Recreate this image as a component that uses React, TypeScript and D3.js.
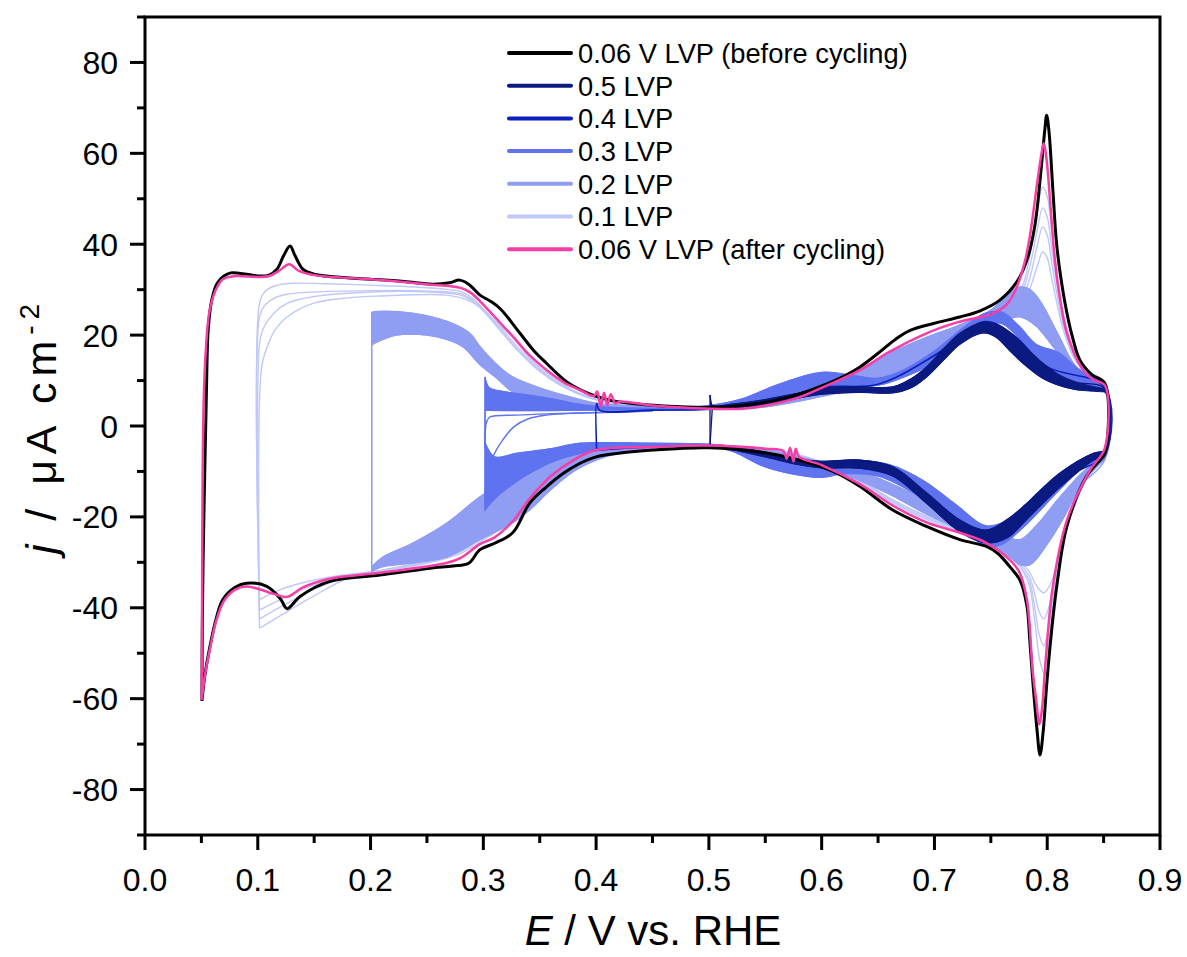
import React from "react";
import * as d3 from "d3";

type Pt = [number, number];

// axis setup
const xTickVals = [0, 0.1, 0.2, 0.3, 0.4, 0.5, 0.6, 0.7, 0.8, 0.9];
const xMinorVals = [0.05, 0.15, 0.25, 0.35, 0.45, 0.55, 0.65, 0.75, 0.85];
const yTickVals = [-80, -60, -40, -20, 0, 20, 40, 60, 80];
const yMinorVals = [-90, -70, -50, -30, -10, 10, 30, 50, 70, 90];

const legendLabels = [
  "0.06 V LVP (before cycling)",
  "0.5 LVP",
  "0.4 LVP",
  "0.3 LVP",
  "0.2 LVP",
  "0.1 LVP",
  "0.06 V LVP (after cycling)",
];
const legendColors = ["#000000", "#0a1a80", "#0b1fbb", "#5f73f0", "#8f9df3", "#bfc8f8", "#f53fa6"];

// 0.06 V before cycling
const blackAnodic: Pt[] = [
  [0.0505, -60.5], [0.0508, -45], [0.0515, -30], [0.053, -10], [0.0545, 8], [0.056, 21], [0.059, 27.5],
  [0.064, 31.4], [0.07, 33], [0.076, 33.7], [0.09, 33.4], [0.1, 33], [0.11, 33.2], [0.117, 34.5],
  [0.123, 37.5], [0.1286, 39.6], [0.133, 37.5], [0.14, 34.5], [0.15, 33.4], [0.179, 32.6], [0.2, 32.3],
  [0.23, 31.8], [0.255, 31.2], [0.27, 31.5], [0.279, 32.1], [0.287, 31.2], [0.297, 28.8], [0.306, 27.5],
  [0.315, 25.8], [0.3325, 20.4], [0.345, 16.5], [0.356, 13.8], [0.374, 9.7], [0.392, 7.3], [0.41, 5.8],
  [0.43, 5], [0.46, 4.4], [0.5, 4.1], [0.53, 4.5], [0.56, 5.7], [0.58, 7], [0.6, 8.8], [0.62, 11],
  [0.634, 13], [0.65, 16], [0.665, 19], [0.678, 21], [0.7, 22.6], [0.7225, 24], [0.74, 25.3],
  [0.758, 27.7], [0.773, 31.7], [0.782, 36.5], [0.789, 44], [0.794, 55], [0.798, 65.5], [0.7995, 68.4],
  [0.8015, 65], [0.805, 52], [0.808, 41], [0.811, 34.5], [0.8175, 24.8], [0.823, 19], [0.829, 14.5],
  [0.84, 11.2], [0.851, 9.4],
];
const blackCathodic: Pt[] = [
  [0.851, -6], [0.845, -8], [0.835, -11], [0.8175, -22], [0.8086, -35], [0.8035, -46], [0.7995, -57],
  [0.7965, -67], [0.7936, -72.4], [0.791, -67], [0.7875, -57], [0.7845, -47], [0.782, -39.6], [0.776, -34],
  [0.767, -31], [0.756, -28], [0.746, -26.5], [0.7226, -25], [0.693, -22.1], [0.663, -18.5], [0.634, -13.3],
  [0.61, -10], [0.58, -7.5], [0.55, -5.9], [0.5, -4.8], [0.45, -5.3], [0.42, -6], [0.4, -6.8],
  [0.385, -8.3], [0.371, -10.4], [0.355, -13.6], [0.341, -17], [0.326, -23.5], [0.31, -25.8],
  [0.297, -27.2], [0.287, -30.2], [0.273, -30.8], [0.253, -31.3], [0.2084, -32.8], [0.164, -34.2],
  [0.1375, -37.5], [0.126, -40.2], [0.12, -38], [0.108, -35.3], [0.09, -34.6], [0.08, -35.5],
  [0.069, -38.2], [0.063, -42.5], [0.0576, -48.5], [0.053, -55], [0.0505, -60.5],
];

// 0.06 V after cycling
const pinkAnodic: Pt[] = [
  [0.0503, -60.3], [0.0506, -40], [0.051, -15], [0.052, 5], [0.054, 17], [0.057, 25], [0.062, 29.5],
  [0.069, 32.3], [0.08, 33], [0.1, 32.8], [0.11, 33], [0.118, 34], [0.128, 35.6], [0.136, 34.2],
  [0.15, 33.2], [0.2, 32.3], [0.25, 31.2], [0.28, 30.4], [0.289, 29.3], [0.297, 27.5], [0.312, 23.5],
  [0.3265, 19.6], [0.34, 15.8], [0.356, 12.3], [0.372, 9.5], [0.386, 7.9], [0.398, 6.6], [0.401, 7.6],
  [0.404, 4.2], [0.407, 7.3], [0.41, 4.6], [0.413, 7], [0.417, 5], [0.421, 5.4], [0.45, 4.5],
  [0.474, 4.1], [0.5, 3.8], [0.53, 3.8], [0.55, 4.5], [0.58, 6.3], [0.6, 8.4], [0.634, 12.3],
  [0.66, 16.3], [0.693, 20.4], [0.72, 22.8], [0.752, 24.8], [0.765, 27], [0.773, 30.6], [0.78, 36],
  [0.785, 42.4], [0.791, 53.3], [0.795, 60], [0.797, 62.2], [0.7995, 58.5], [0.803, 48], [0.807, 36],
  [0.812, 27], [0.8175, 20.4], [0.83, 13], [0.841, 10.1], [0.851, 9],
];
const pinkCathodic: Pt[] = [
  [0.851, -4.9], [0.838, -9.7], [0.8175, -20.7], [0.805, -35.3], [0.798, -53.6], [0.7955, -62],
  [0.793, -65.7], [0.7905, -61], [0.787, -53.6], [0.782, -38.2], [0.775, -32], [0.767, -29.5],
  [0.746, -25.7], [0.7226, -23.5], [0.693, -21.2], [0.663, -17.5], [0.634, -12.8], [0.6, -8.6],
  [0.58, -6.8], [0.577, -5], [0.575, -7.8], [0.572, -4.8], [0.569, -7.2], [0.566, -5.5], [0.55, -5],
  [0.5, -4.3], [0.45, -4.6], [0.4, -5.3], [0.38, -7.5], [0.36, -11], [0.341, -16], [0.326, -21],
  [0.31, -24.5], [0.297, -26], [0.28, -29], [0.268, -30.1], [0.2084, -32.3], [0.164, -33.6],
  [0.14, -35.5], [0.126, -37.6], [0.115, -37], [0.1, -35.8], [0.09, -35.3], [0.08, -36], [0.07, -38.5],
  [0.063, -43], [0.0576, -49], [0.053, -55], [0.0503, -60.3],
];

// 0.1 LVP, four visible cycles
const lvp01A: Pt[] = [
  [0.1015, -38.2], [0.1015, 27], [0.106, 29.5], [0.115, 30.8], [0.13, 31.4], [0.16, 31.3], [0.2, 31],
  [0.24, 30.6], [0.27, 30], [0.28, 29.6], [0.29, 28.2], [0.3, 25.8], [0.315, 21.8], [0.33, 17.5],
  [0.35, 12.5], [0.37, 9], [0.39, 6.8], [0.42, 5], [0.46, 4.2], [0.5, 3.9], [0.55, 4.7], [0.6, 8.2],
  [0.634, 11.8], [0.66, 15.5], [0.693, 19.5], [0.72, 21.8], [0.745, 23.5], [0.765, 26], [0.777, 30],
  [0.785, 38], [0.791, 47], [0.796, 52.6], [0.8, 50.5], [0.804, 43], [0.809, 33], [0.815, 24],
  [0.825, 16], [0.838, 11.5], [0.851, 9.2],
  [0.851, -5.2], [0.838, -9.5], [0.822, -18], [0.812, -28], [0.805, -40], [0.8, -50], [0.797, -54.3],
  [0.793, -51], [0.789, -43], [0.784, -35], [0.776, -31], [0.765, -28.5], [0.746, -25.3], [0.72, -23],
  [0.693, -20.6], [0.663, -17], [0.634, -12.5], [0.6, -8.3], [0.55, -5.1], [0.5, -4.4], [0.45, -4.7],
  [0.4, -5.5], [0.38, -7.8], [0.36, -11], [0.341, -15.5], [0.326, -20], [0.31, -23.5], [0.297, -25.5],
  [0.28, -28], [0.25, -30.2], [0.21, -31.8], [0.17, -33], [0.14, -34.5], [0.12, -36], [0.1015, -38.2],
];
const lvp01B: Pt[] = [
  [0.1015, -40.5], [0.1015, 24], [0.106, 26.5], [0.115, 28.2], [0.126, 29], [0.15, 29.5], [0.2, 29.8],
  [0.24, 29.8], [0.27, 29.5], [0.28, 29.1], [0.29, 27.8], [0.3, 25.5], [0.315, 21.3], [0.33, 17],
  [0.35, 12.2], [0.37, 8.8], [0.39, 6.6], [0.42, 4.9], [0.46, 4.1], [0.5, 3.8], [0.55, 4.6], [0.6, 8],
  [0.634, 11.4], [0.66, 15], [0.693, 19], [0.72, 21.3], [0.745, 23], [0.765, 25.3], [0.777, 29],
  [0.785, 35.5], [0.791, 43], [0.796, 48], [0.8, 46], [0.804, 39], [0.809, 30.5], [0.815, 22.5],
  [0.825, 15.2], [0.838, 11.2], [0.851, 9],
  [0.851, -5.5], [0.838, -9.8], [0.822, -18.5], [0.812, -28], [0.805, -38], [0.8, -46], [0.797, -48.4],
  [0.793, -46], [0.789, -40], [0.784, -34], [0.776, -31], [0.765, -28.2], [0.746, -25], [0.72, -22.7],
  [0.693, -20.3], [0.663, -16.7], [0.634, -12.2], [0.6, -8.1], [0.55, -5], [0.5, -4.4], [0.45, -4.6],
  [0.4, -5.4], [0.38, -7.6], [0.36, -10.7], [0.341, -15], [0.326, -19.5], [0.31, -23], [0.297, -25],
  [0.28, -27.6], [0.25, -30], [0.21, -31.8], [0.17, -33.5], [0.15, -35], [0.13, -37], [0.115, -38.8],
  [0.1015, -40.5],
];
const lvp01C: Pt[] = [
  [0.1015, -42.5], [0.1015, 18], [0.105, 21.5], [0.115, 25], [0.126, 27], [0.15, 28.5], [0.2, 29.5],
  [0.24, 29.6], [0.27, 29.2], [0.28, 28.8], [0.29, 27.5], [0.3, 25.3], [0.315, 21], [0.33, 16.7],
  [0.35, 12], [0.37, 8.7], [0.39, 6.5], [0.42, 4.8], [0.46, 4.1], [0.5, 3.8], [0.55, 4.5], [0.6, 7.8],
  [0.634, 11], [0.66, 14.5], [0.693, 18.5], [0.72, 20.8], [0.745, 22.5], [0.765, 24.5], [0.777, 27.5],
  [0.785, 33], [0.791, 39.5], [0.796, 43.8], [0.8, 42], [0.804, 36], [0.809, 28.5], [0.815, 21.5],
  [0.825, 14.8], [0.838, 11], [0.851, 8.9],
  [0.851, -5.6], [0.838, -10], [0.822, -18.8], [0.812, -27.5], [0.805, -36], [0.8, -41], [0.797, -42.5],
  [0.793, -41], [0.789, -37], [0.784, -33], [0.776, -30.5], [0.765, -28], [0.746, -24.8], [0.72, -22.5],
  [0.693, -20], [0.663, -16.4], [0.634, -12], [0.6, -8], [0.55, -5], [0.5, -4.4], [0.45, -4.6],
  [0.4, -5.3], [0.38, -7.4], [0.36, -10.4], [0.341, -14.6], [0.326, -19], [0.31, -22.5], [0.297, -24.6],
  [0.28, -27.2], [0.25, -29.8], [0.21, -31.8], [0.17, -34], [0.149, -36], [0.13, -38.5], [0.115, -40.5],
  [0.1015, -42.5],
];
const lvp01D: Pt[] = [
  [0.1015, -44.5], [0.1015, 5], [0.104, 13.8], [0.11, 18.5], [0.115, 21], [0.126, 24], [0.149, 27],
  [0.18, 28.2], [0.208, 28.6], [0.268, 28.8], [0.285, 27.8], [0.297, 26.2], [0.31, 23.2], [0.326, 19.5],
  [0.345, 14], [0.36, 11], [0.38, 7.8], [0.4, 6], [0.43, 4.7], [0.46, 4.1], [0.5, 3.8], [0.55, 4.4],
  [0.6, 7.6], [0.634, 10.6], [0.66, 14], [0.693, 18], [0.72, 20.3], [0.745, 22], [0.765, 23.8],
  [0.777, 26.5], [0.785, 30.5], [0.791, 35], [0.796, 38.3], [0.8, 37], [0.804, 32.5], [0.809, 26.5],
  [0.815, 20.5], [0.825, 14.4], [0.838, 10.8], [0.851, 8.8],
  [0.851, -5.8], [0.838, -10.2], [0.822, -19], [0.812, -27], [0.805, -33.5], [0.8, -36], [0.797, -36.7],
  [0.793, -36], [0.789, -34.5], [0.784, -32], [0.776, -30], [0.765, -27.8], [0.746, -24.6], [0.72, -22.3],
  [0.693, -19.8], [0.663, -16.2], [0.634, -11.8], [0.6, -7.9], [0.55, -4.9], [0.5, -4.4], [0.45, -4.6],
  [0.4, -5.2], [0.38, -7.2], [0.36, -10.2], [0.341, -14.2], [0.326, -18.5], [0.31, -22], [0.297, -24.2],
  [0.28, -27], [0.25, -29.6], [0.21, -31.8], [0.18, -33.5], [0.149, -37.5], [0.129, -40.4], [0.115, -42.5],
  [0.1015, -44.5],
];

// 0.2 LVP band edges (anodic = up, cathodic = low)
const lvp02UpOuter: Pt[] = [
  [0.201, 25], [0.206, 25.2], [0.238, 24.8], [0.268, 23], [0.288, 20.4], [0.297, 17.5], [0.31, 14],
  [0.326, 10.8], [0.356, 7.9], [0.377, 6.4], [0.4, 5], [0.45, 4.3], [0.5, 4], [0.55, 5.2], [0.6, 9],
  [0.634, 12.5], [0.66, 16], [0.693, 19.5], [0.72, 22], [0.75, 25.5], [0.765, 29], [0.776, 30.6],
  [0.785, 30], [0.795, 27], [0.81, 20], [0.826, 13], [0.851, 9.5],
];
const lvp02UpInner: Pt[] = [
  [0.201, 17.8], [0.206, 18.5], [0.223, 20], [0.25, 20], [0.268, 19], [0.282, 17.4], [0.297, 13.5],
  [0.312, 10.5], [0.326, 7.5], [0.356, 5], [0.4, 4], [0.5, 3.6], [0.55, 4.2], [0.6, 6.5], [0.634, 8.5],
  [0.66, 11], [0.693, 15], [0.72, 18.5], [0.745, 21.5], [0.765, 23.5], [0.776, 24], [0.79, 22],
  [0.81, 16], [0.83, 11], [0.851, 8.5],
];
const lvp02LowOuter: Pt[] = [
  [0.201, -32], [0.21, -31], [0.238, -30.1], [0.268, -28.8], [0.297, -25], [0.326, -21.3], [0.341, -18.5],
  [0.36, -14], [0.38, -10], [0.4, -7.5], [0.42, -6], [0.45, -5], [0.5, -4.8], [0.55, -6], [0.6, -9],
  [0.634, -12], [0.66, -15], [0.69, -19], [0.72, -22.5], [0.746, -25.5], [0.765, -28.5], [0.776, -30.5],
  [0.785, -30.5], [0.8, -26], [0.815, -20], [0.83, -13], [0.851, -7.5],
];
const lvp02LowInner: Pt[] = [
  [0.201, -31], [0.21, -29], [0.238, -25.7], [0.268, -21.3], [0.297, -15.6], [0.326, -11.2], [0.341, -9],
  [0.36, -7], [0.38, -5.5], [0.4, -4.8], [0.45, -4.3], [0.5, -4.3], [0.55, -5.2], [0.6, -8], [0.634, -10],
  [0.66, -12.5], [0.69, -16], [0.72, -20], [0.746, -23], [0.765, -24.5], [0.776, -25], [0.79, -22],
  [0.81, -16], [0.83, -10.5], [0.851, -6],
];

// 0.3 LVP band edges
const lvp03UpOuter: Pt[] = [
  [0.3015, 10.8], [0.305, 8.5], [0.32, 7.5], [0.34, 6.8], [0.36, 6], [0.38, 5], [0.4, 4.3], [0.45, 3.9],
  [0.5, 4.5], [0.53, 6], [0.56, 9], [0.6, 11.8], [0.63, 11], [0.65, 10.5], [0.67, 12], [0.7, 16.5],
  [0.725, 21.5], [0.745, 24.8], [0.76, 25], [0.775, 22], [0.79, 18], [0.811, 16], [0.83, 12], [0.851, 9.5],
];
const lvp03UpInner: Pt[] = [
  [0.3015, 3.5], [0.32, 3.4], [0.36, 3.4], [0.4, 3.5], [0.45, 3.5], [0.5, 3.7], [0.53, 4.5], [0.56, 6.5],
  [0.6, 8.5], [0.63, 8.8], [0.65, 9], [0.67, 10.5], [0.7, 14], [0.725, 19], [0.745, 22.5], [0.76, 22.5],
  [0.78, 18], [0.8, 13], [0.83, 9.5], [0.851, 8],
];
const lvp03LowOuter: Pt[] = [
  [0.3015, -18.5], [0.31, -16], [0.325, -13], [0.341, -10.4], [0.36, -8], [0.386, -6], [0.42, -5],
  [0.5, -4.6], [0.52, -5.5], [0.55, -9], [0.58, -10.8], [0.6, -11.3], [0.62, -10.5], [0.65, -11],
  [0.69, -16], [0.72, -21.5], [0.746, -26.5], [0.76, -26], [0.78, -22], [0.811, -14], [0.83, -9.5],
  [0.851, -7],
];
const lvp03LowInner: Pt[] = [
  [0.3015, -3.7], [0.31, -6.8], [0.33, -6], [0.36, -5], [0.386, -3.8], [0.45, -3.8], [0.5, -4],
  [0.53, -4.8], [0.56, -6.5], [0.6, -7.8], [0.63, -7.5], [0.66, -8.5], [0.69, -12], [0.72, -17.5],
  [0.746, -22], [0.77, -20], [0.79, -15], [0.811, -10.5], [0.83, -7.5], [0.851, -5.5],
];
const lvp03FirstA: Pt[] = [
  [0.3015, -17], [0.303, -11], [0.309, -6.5], [0.316, -3.5], [0.327, -0.2], [0.34, 1.6],
  [0.356, 2.4], [0.38, 2.8], [0.4, 2.9], [0.45, 3.3],
];
const lvp03FirstB: Pt[] = [
  [0.3015, -5], [0.303, 1], [0.306, 2], [0.33, 2.4], [0.36, 2.7], [0.4, 3], [0.45, 3.3],
];

// 0.4 LVP
const lvp04Loop: Pt[] = [
  [0.4005, -5.3], [0.4005, 5], [0.403, 3.5], [0.45, 3.5], [0.5, 3.7], [0.55, 5], [0.6, 8.5], [0.65, 9.2],
  [0.7, 15.5], [0.745, 23], [0.77, 20], [0.8, 13], [0.851, 8.5],
  [0.851, -6], [0.81, -12], [0.78, -19.5], [0.746, -25], [0.72, -21], [0.69, -15], [0.66, -9.5],
  [0.6, -8.5], [0.55, -6], [0.5, -4.5], [0.45, -4.6], [0.4005, -5.3],
];

// 0.5 LVP band edges
const lvp05UpOuter: Pt[] = [
  [0.501, 6.8], [0.503, 4.5], [0.52, 4.8], [0.55, 5.8], [0.58, 7.3], [0.6, 8.3], [0.634, 8.6],
  [0.663, 8.6], [0.68, 10.5], [0.693, 13], [0.71, 17.5], [0.7226, 20.4], [0.743, 22.8], [0.755, 22.3],
  [0.767, 20.6], [0.78, 17.5], [0.796, 13.8], [0.81, 11.3], [0.826, 9.6], [0.851, 8.2],
];
const lvp05UpInner: Pt[] = [
  [0.503, 3.8], [0.52, 4], [0.55, 4.8], [0.58, 6.2], [0.6, 7], [0.634, 7.4], [0.663, 7.3], [0.68, 8.5],
  [0.693, 10.8], [0.71, 15], [0.7226, 18], [0.743, 20.5], [0.755, 19.5], [0.767, 16.5], [0.78, 13.5],
  [0.796, 10.5], [0.81, 9], [0.826, 8], [0.851, 7.5],
];
const lvp05LowOuter: Pt[] = [
  [0.501, -4.6], [0.52, -5.2], [0.55, -6.8], [0.58, -8.5], [0.6, -9.2], [0.634, -9.3], [0.663, -11],
  [0.693, -17], [0.7226, -23.3], [0.746, -25.7], [0.765, -24.5], [0.782, -20.5], [0.811, -13.5],
  [0.841, -7.5], [0.851, -6.5],
];
const lvp05LowInner: Pt[] = [
  [0.501, -4.3], [0.52, -4.6], [0.55, -5.8], [0.58, -7.3], [0.6, -7.8], [0.634, -7.5], [0.663, -9],
  [0.693, -14.7], [0.7226, -20.7], [0.746, -22.9], [0.765, -20.5], [0.782, -17], [0.811, -10.4],
  [0.841, -6], [0.851, -5.5],
];

const FONT = "'Liberation Sans', Arial, sans-serif";

const x = d3.scaleLinear().domain([0, 0.9]).range([145, 1160]);
const y = d3.scaleLinear().domain([-90, 90]).range([835, 17]);

const line = d3
  .line<Pt>()
  .x((d) => x(d[0]))
  .y((d) => y(d[1]))
  .curve(d3.curveCatmullRom.alpha(0.5));

// closed band between two edges
function bandPath(outer: Pt[], inner: Pt[]) {
  const a = line(outer) || "";
  const b = (line(inner.slice().reverse()) || "").replace(/^M/, "L");
  return a + b + "Z";
}

// closed cycle from anodic edge and cathodic edge (both left to right)
function loopPath(up: Pt[], low: Pt[]) {
  return (line(up.concat(low.slice().reverse())) || "") + "Z";
}

function Band({ upO, upI, lowO, lowI, color }: { upO: Pt[]; upI: Pt[]; lowO: Pt[]; lowI: Pt[]; color: string }) {
  return (
    <g>
      <path d={bandPath(upO, upI)} fill={color} stroke={color} strokeWidth={1} />
      <path d={bandPath(lowO, lowI)} fill={color} stroke={color} strokeWidth={1} />
      <path d={loopPath(upO, lowO)} fill="none" stroke={color} strokeWidth={1.3} />
      <path d={loopPath(upI, lowI)} fill="none" stroke={color} strokeWidth={1.3} />
    </g>
  );
}

export default function App() {
  const left = x.range()[0];
  const right = x.range()[1];
  const top = y.range()[1];
  const bottom = y.range()[0];

  return (
    <svg
      width={1187}
      height={957}
      style={{ position: "absolute", left: 0, top: 0, background: "#fff" }}
      fontFamily={FONT}
    >
      <defs>
        <clipPath id="plot">
          <rect x={left} y={top} width={right - left} height={bottom - top} />
        </clipPath>
      </defs>

      <g clipPath="url(#plot)">
        {[lvp01D, lvp01C, lvp01B, lvp01A].map((c, i) => (
          <path key={i} d={line(c) || ""} fill="none" stroke={legendColors[5]} strokeWidth={1.4} />
        ))}
        <Band upO={lvp02UpOuter} upI={lvp02UpInner} lowO={lvp02LowOuter} lowI={lvp02LowInner} color={legendColors[4]} />
        <Band upO={lvp03UpOuter} upI={lvp03UpInner} lowO={lvp03LowOuter} lowI={lvp03LowInner} color={legendColors[3]} />
        <path d={line(lvp03FirstA) || ""} fill="none" stroke={legendColors[3]} strokeWidth={1.4} />
        <path d={line(lvp03FirstB) || ""} fill="none" stroke={legendColors[3]} strokeWidth={1.4} />
        <path d={line(lvp04Loop) || ""} fill="none" stroke={legendColors[2]} strokeWidth={1.6} />
        <Band upO={lvp05UpOuter} upI={lvp05UpInner} lowO={lvp05LowOuter} lowI={lvp05LowInner} color={legendColors[1]} />
        <path d={line(blackAnodic.concat(blackCathodic)) || ""} fill="none" stroke={legendColors[0]} strokeWidth={3} strokeLinejoin="round" />
        <path d={line(pinkAnodic.concat(pinkCathodic)) || ""} fill="none" stroke={legendColors[6]} strokeWidth={2.5} strokeLinejoin="round" />
      </g>

      {/* frame */}
      <rect x={left} y={top} width={right - left} height={bottom - top} fill="none" stroke="#000" strokeWidth={3} />

      {/* y ticks */}
      {yTickVals.map((v) => (
        <g key={"y" + v}>
          <line x1={left - 15} x2={left} y1={y(v)} y2={y(v)} stroke="#000" strokeWidth={3} />
          <text x={118} y={y(v) + 11.5} fontSize={32} textAnchor="end">
            {v}
          </text>
        </g>
      ))}
      {yMinorVals.map((v) => (
        <line key={"ym" + v} x1={left - 8} x2={left} y1={y(v)} y2={y(v)} stroke="#000" strokeWidth={3} />
      ))}

      {/* x ticks */}
      {xTickVals.map((v) => (
        <g key={"x" + v}>
          <line x1={x(v)} x2={x(v)} y1={bottom} y2={bottom + 15} stroke="#000" strokeWidth={3} />
          <text x={x(v)} y={891} fontSize={32} textAnchor="middle">
            {d3.format(".1f")(v)}
          </text>
        </g>
      ))}
      {xMinorVals.map((v) => (
        <line key={"xm" + v} x1={x(v)} x2={x(v)} y1={bottom} y2={bottom + 8} stroke="#000" strokeWidth={3} />
      ))}

      {/* axis titles */}
      <text x={653} y={945} fontSize={42} textAnchor="middle">
        <tspan fontStyle="italic">E</tspan> / V vs. RHE
      </text>
      <text
        transform={`translate(56,429) rotate(-90)`}
        fontSize={43}
        textAnchor="middle"
        textLength={250}
        lengthAdjust="spacing"
      >
        <tspan fontStyle="italic">j</tspan> / μA cm<tspan fontSize={28} dy={-17}>-2</tspan>
      </text>

      {/* legend */}
      {legendLabels.map((lab, i) => {
        const cy = 53 + i * 32.7;
        return (
          <g key={lab}>
            <line x1={509} x2={571} y1={cy} y2={cy} stroke={legendColors[i]} strokeWidth={4} strokeLinecap="round" />
            <text x={578} y={cy + 9.8} fontSize={27.3}>
              {lab}
            </text>
          </g>
        );
      })}
    </svg>
  );
}
